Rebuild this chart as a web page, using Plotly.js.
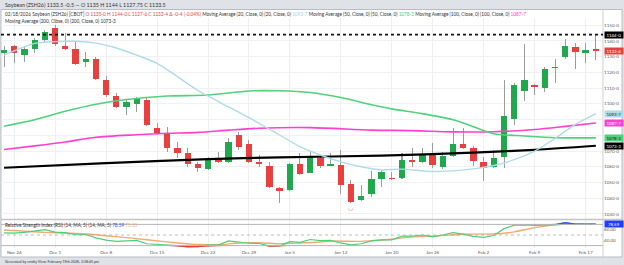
<!DOCTYPE html>
<html><head><meta charset="utf-8">
<script src="https://cdn.plot.ly/plotly-3.0.1.min.js"></script>
<style>html,body{margin:0;padding:0;background:#dfe2e6;overflow:hidden}#chart{width:624px;height:265px}</style>
</head><body><div id="chart"></div>
<script>
// ---------- data ----------
const dates = ['2025-11-21','2025-11-24','2025-11-25','2025-11-26','2025-11-28','2025-12-01','2025-12-02','2025-12-03','2025-12-04','2025-12-05',
'2025-12-08','2025-12-09','2025-12-10','2025-12-11','2025-12-12','2025-12-15','2025-12-16','2025-12-17','2025-12-18','2025-12-19',
'2025-12-22','2025-12-23','2025-12-24','2025-12-26','2025-12-29','2025-12-30','2025-12-31','2026-01-02','2026-01-05','2026-01-06',
'2026-01-07','2026-01-08','2026-01-09','2026-01-12','2026-01-13','2026-01-14','2026-01-15','2026-01-16','2026-01-20','2026-01-21',
'2026-01-22','2026-01-23','2026-01-26','2026-01-27','2026-01-28','2026-01-29','2026-01-30','2026-02-02','2026-02-03','2026-02-04',
'2026-02-05','2026-02-06','2026-02-09','2026-02-10','2026-02-11','2026-02-12','2026-02-13','2026-02-17','2026-02-18'];
const opens  = [1132.5,1137,1131,1135,1140.5,1148,1136.5,1134.75,1126.75,1128.5,1115.25,1105,1098.25,1100,1102.5,1084.5,1081.25,1071.75,1068.5,1061.5,
1058.5,1064.75,1062.75,1080.25,1074.5,1063.25,1060.75,1046.25,1045.25,1061.5,1056.25,1065.75,1060.75,1061,1049,1039,1043,1052.25,1052.5,1052.75,
1064,1063.25,1067.5,1060,1067,1074.5,1072.25,1062.75,1060,1066.5,1090.25,1108.5,1111.75,1110,1122.5,1129.5,1136,1132.25,1135];
const highs  = [1136.5,1137.75,1136.5,1141.75,1147,1150.25,1145,1139.5,1133.25,1130,1117.75,1106.75,1102.5,1104.25,1103.5,1087.75,1085.5,1076,1071.75,1063.25,
1066.5,1069.5,1078,1082.25,1077,1067.5,1063.25,1047.25,1062.25,1068.5,1069.5,1067.5,1068.5,1070.75,1051.5,1048.5,1057.5,1058,1057,1068.5,
1071.75,1071.75,1075,1069.5,1084.5,1084.5,1073.25,1066.5,1070.75,1115.25,1113,1138,1112.5,1123.75,1128.5,1141,1139,1139,1144];
const lows   = [1123.75,1125.75,1126.75,1132.25,1139.5,1136.75,1134.25,1124.75,1123.75,1115.25,1104.25,1097.25,1093,1095,1086,1080.25,1069.5,1065.5,1060,1057,
1058,1062.25,1062.25,1070.75,1062.25,1060,1046.25,1037.25,1044.75,1055,1055.75,1059.5,1060.5,1042.75,1036.75,1038.5,1041,1047.25,1051.5,1052,
1060,1062.5,1059,1058.5,1066.5,1071,1060.5,1051.25,1059,1059,1086.5,1102,1105.75,1107.75,1113,1128.5,1122,1125.75,1127.75];
const closes = [1134.25,1132.25,1134.75,1140.5,1146,1138,1135,1125.5,1128.5,1115.75,1105.75,1098.25,1101,1103,1086.5,1081.25,1071.75,1068.5,1061.5,1059,
1064.25,1063.25,1076,1072.5,1062.75,1061.75,1047,1044.75,1061.5,1055.5,1066.5,1060.5,1061.75,1048.5,1037.75,1041.5,1052.25,1057,1052.25,1064,
1063,1067.5,1061,1067,1074.5,1071.75,1063.75,1059.5,1065.5,1092,1112,1115.25,1110.5,1122.25,1123.75,1137,1133.25,1134,1133.5];

const ma20Idx = [0,1,3,5,7,9,11,13,15,17,19,21,24,27,29,31,33,35,37,39,42,46,48,50,52,54,56,58];
const ma20    = [1131,1133.7,1138.5,1139.6,1139.8,1138.6,1135.5,1131,1125.8,1117.3,1108.5,1101.5,1091.2,1080.2,1072.8,1067.5,1063.1,1060,1058,1058.5,1057,1058.7,1060.8,1064.5,1070,1078,1087,1093.875];
const ma50Idx = [0,3,6,9,12,16,20,24,27,30,33,36,38,41,44,46,48,51,54,58];
const ma50    = [1085.8,1089.9,1095.3,1099.8,1102.8,1105,1105.6,1108.2,1108.3,1107.2,1104,1099.5,1096.8,1093.8,1089.9,1085.5,1081,1079.6,1078.5,1078.375];
const ma100Idx = [0,3,6,9,13,16,19,22,25,30,36,40,44,48,52,55,58];
const ma100    = [1071,1073.3,1075.8,1078.8,1080.4,1081.3,1081.9,1083.3,1084.5,1084.9,1083.3,1083,1082.2,1082.3,1083.7,1085.7,1087.875];
const ma200Idx = [0,10,20,27,37,46,52,58];
const ma200    = [1059.4,1062.3,1064.9,1066,1067.1,1069,1070.8,1073.375];

const rsi = [54,53.5,55,58,60,55.5,54.5,50.5,51,44.5,40.5,38,39,40,33.5,32.5,30.5,30,28,27.5,
31.5,31,39,37,34.5,34,29.5,29,37.5,36,41.5,39.5,40,35,31.5,33.5,39,41,41,48,
48,50,46.5,50,54.5,51.5,47.5,45.5,49,62,68.5,69,68,68.5,69.5,73,70.2,70,70.3];
const rsiMaIdx = [0,4,8,11,14,17,19,21,23,25,27,28,31,32,35,36,38,40,42,45,48,50,52,55,58];
const rsiMa    = [59.5,55,52,47,41,35,32,31.5,35,35.5,33.5,34.3,36.8,38.5,38,39.2,42,46.5,48,51.5,52,56,64,70.5,70.5];
const rsiLevels = [30,50,70];
const rsiTicks = [40,60];
const rsiLabelText = ['78.59','75.15'];

const tickDates  = ['2025-11-24','2025-12-01','2025-12-08','2025-12-15','2025-12-22','2025-12-29','2026-01-05','2026-01-12','2026-01-20','2026-01-26','2026-02-02','2026-02-09','2026-02-17'];
const tickLabels = ['Nov 24','Dec 1','Dec 8','Dec 15','Dec 22','Dec 29','Jan 5','Jan 12','Jan 20','Jan 26','Feb 2','Feb 9','Feb 17'];
const priceTicks = [1030,1040,1050,1060,1070,1080,1090,1100,1110,1120,1130,1140,1150];

// ---------- helpers ----------
const W=624,H=265;
const px=x=>x/W, py=y=>1-y/H;
function f8(v){const s=v<0?'-':'';v=Math.abs(v);let w=Math.floor(v);let e=Math.round((v-w)*8);if(e===8){w++;e=0;}return s+w+'-'+e;}
const at=(idx)=>idx.map(i=>dates[i]);
const UP='#1fa94c', DN='#e8403f', WICK='#9c9c9c';
const n=dates.length, L=n-1;

// ---------- traces ----------
const traces=[];
traces.push({type:'bar',x:dates,base:lows,y:highs.map((h,i)=>h-lows[i]),width:0.1,marker:{color:WICK,line:{width:0}},xaxis:'x',yaxis:'y',hoverinfo:'skip'});
traces.push({type:'bar',x:dates,base:opens.map((o,i)=>Math.min(o,closes[i])),
  y:opens.map((o,i)=>Math.max(Math.abs(closes[i]-o),0.5)),width:0.62,
  marker:{color:opens.map((o,i)=>closes[i]>=o?UP:DN),line:{width:0}},xaxis:'x',yaxis:'y',hoverinfo:'skip'});
const maLine=(idx,v,c,w)=>({type:'scatter',mode:'lines',x:at(idx),y:v,line:{color:c,width:w,shape:'spline',smoothing:0.8},xaxis:'x',yaxis:'y',hoverinfo:'skip'});
traces.push(maLine(ma200Idx,ma200,'#000000',2.2));
traces.push(maLine(ma100Idx,ma100,'#ff3fd0',1.6));
traces.push(maLine(ma50Idx,ma50,'#4fd27c',1.6));
traces.push(maLine(ma20Idx,ma20,'#aedbea',1.4));
// RSI
traces.push({type:'scatter',mode:'lines',x:at(rsiMaIdx),y:rsiMa,line:{color:'#f5a870',width:1.4,shape:'spline',smoothing:0.7},xaxis:'x',yaxis:'y2',hoverinfo:'skip'});
traces.push({type:'scatter',mode:'lines',x:dates,y:rsi,line:{color:'#4ccf7b',width:1.2},xaxis:'x',yaxis:'y2',hoverinfo:'skip'});
traces.push({type:'scatter',mode:'lines',x:dates,y:rsi,line:{color:'#e8303a',width:1.8},xaxis:'x',yaxis:'y3',hoverinfo:'skip'});
traces.push({type:'scatter',mode:'lines',x:dates,y:rsi,line:{color:'#2b4dff',width:1.6},xaxis:'x',yaxis:'y4',hoverinfo:'skip'});

// ---------- layout geometry ----------
const pTop=18,pBot=219, rTop=220,rBot=248;
const yRange=[1026.8,1154.6], rRange=[25.5,78.3];
const rPix=v=>rTop+(rRange[1]-v)/(rRange[1]-rRange[0])*(rBot-rTop);
const lv30=rPix(rsiLevels[0]), lv70=rPix(rsiLevels[2]);

const font="Lato, 'Open Sans', sans-serif";
const grey='#5a5a5a';
const ann=[];
ann.push({xref:'paper',yref:'paper',x:px(3),y:py(5),xanchor:'left',yanchor:'middle',showarrow:false,
  text:'Soybean (ZSH26) '+closes[L]+' '+(closes[L]-closes[L-1])+' \u2014 O '+opens[L]+' H '+highs[L]+' L '+lows[L]+' C '+closes[L],
  font:{family:font,size:5.3,color:'#333'}});
const red='#e8403f';
const chg=closes[L]-closes[L-1], pct=(chg/closes[L-1]*100).toFixed(2);
ann.push({xref:'paper',yref:'paper',x:px(3),y:py(14.5),xanchor:'left',yanchor:'middle',showarrow:false,
  text:'02/18/2026 Soybean (ZSH26) [CBOT] <span style="color:'+red+'">O '+f8(opens[L])+' H '+f8(highs[L])+' L '+f8(lows[L])+' C '+f8(closes[L])+' \u0394 '+f8(chg)+' ('+pct+'%)</span> Moving Average (20, Close, 0) (20, Close, 0) <span style="color:#9fd3e6">'+f8(ma20[ma20.length-1])+'</span> Moving Average (50, Close, 0) (50, Close, 0) <span style="color:#3fcf6f">'+f8(ma50[ma50.length-1])+'</span> Moving Average (100, Close, 0) (100, Close, 0) <span style="color:#ff3fd0">'+f8(ma100[ma100.length-1])+'</span>',
  font:{family:font,size:4.7,color:'#333'}});
ann.push({xref:'paper',yref:'paper',x:px(3),y:py(21),xanchor:'left',yanchor:'middle',showarrow:false,
  text:'Moving Average (200, Close, 0) (200, Close, 0) '+f8(ma200[ma200.length-1]),font:{family:font,size:4.7,color:'#333'}});
ann.push({xref:'paper',yref:'paper',x:px(3),y:py(224.5),xanchor:'left',yanchor:'middle',showarrow:false,
  text:'Relative Strength Index (RSI) (14, MA, 5) (14, MA, 5) <span style="color:#2b4dff">'+rsiLabelText[0]+'</span> <span style="color:#f5a870">'+rsiLabelText[1]+'</span>',
  font:{family:font,size:4.7,color:'#333'}});
ann.push({xref:'paper',yref:'paper',x:px(3),y:py(261.5),xanchor:'left',yanchor:'middle',showarrow:false,
  text:'Generated by cmdty View: February 19th 2026, 2:38:45 pm',font:{family:font,size:3.6,color:'#333'}});
// right boxes
const boxVals=[];
const box=(yr,v,txt,bg,fc)=>{if(yr==='y')boxVals.push(v);ann.push({xref:'paper',yref:yr,x:px(604),y:v,xanchor:'left',yanchor:'middle',showarrow:false,
  text:txt,bgcolor:bg,font:{family:font,size:4.4,color:fc},width:17,height:5.5,borderpad:0.3});};
box('y',highs[L],f8(highs[L]),'#000','#fff');
box('y',closes[L],f8(closes[L]),'#e8403f','#fff');
box('y',ma20[ma20.length-1],f8(ma20[ma20.length-1]),'#aedbea','#222');
box('y',ma100[ma100.length-1],f8(ma100[ma100.length-1]),'#ff3fd0','#fff');
box('y',ma50[ma50.length-1],f8(ma50[ma50.length-1]),'#4fd27c','#111');
box('y',ma200[ma200.length-1],f8(ma200[ma200.length-1]),'#000','#fff');
box('y2',rsi[L],rsiLabelText[0],'#1f3dff','#fff');
// tick labels hidden behind a value box (as in the reference)
const unitPx=(pBot-pTop)/(yRange[1]-yRange[0]);
const priceTickText=priceTicks.map(t=>boxVals.some(b=>Math.abs(b-t)*unitPx<5.2)?'':f8(t));
// extreme markers
const hiI=highs.indexOf(Math.max(...highs)), loI=lows.indexOf(Math.min(...lows));
ann.push({xref:'x',yref:'y',x:dates[hiI],y:highs[hiI],yshift:4,showarrow:false,text:'\u25E0',font:{family:'DejaVu Sans',size:6,color:'#e8403f'}});
ann.push({xref:'x',yref:'y',x:dates[loI],y:lows[loI],yshift:-4,showarrow:false,text:'\u25E1',font:{family:'DejaVu Sans',size:6,color:'#e8403f'}});

const shapes=[
 {type:'rect',xref:'paper',yref:'paper',x0:px(1),x1:px(622),y0:py(257),y1:py(9.5),fillcolor:'#ffffff',line:{color:'#b9bdc3',width:1},layer:'below'},
 {type:'line',xref:'paper',yref:'paper',x0:px(1),x1:px(622),y0:py(219.5),y1:py(219.5),line:{color:'#c4c4c4',width:1.5}},
 {type:'line',xref:'paper',yref:'paper',x0:px(603),x1:px(603),y0:py(257),y1:py(9.5),line:{color:'#cfcfcf',width:1}},
 {type:'line',xref:'paper',yref:'y',x0:px(1),x1:px(603),y0:highs[L],y1:highs[L],line:{color:'#111',width:1.6,dash:'dot'}},
 {type:'line',xref:'paper',yref:'y2',x0:px(1),x1:px(603),y0:rsiLevels[2],y1:rsiLevels[2],line:{color:'#b5b5b5',width:1}},
 {type:'line',xref:'paper',yref:'y2',x0:px(1),x1:px(603),y0:rsiLevels[0],y1:rsiLevels[0],line:{color:'#b5b5b5',width:1}},
 {type:'line',xref:'paper',yref:'y2',x0:px(1),x1:px(603),y0:rsiLevels[1],y1:rsiLevels[1],line:{color:'#aaaaaa',width:0.8,dash:'dot'}}
];

const layout={
 width:W,height:H,margin:{l:0,r:0,t:0,b:0},paper_bgcolor:'#dfe2e6',plot_bgcolor:'rgba(0,0,0,0)',
 showlegend:false,barmode:'overlay',bargap:0,
 font:{family:font,color:grey},
 xaxis:{type:'category',domain:[px(1),px(603)],range:[-0.3,58.7],anchor:'y2',tickvals:tickDates,ticktext:tickLabels,
   tickfont:{size:4.6,color:grey},ticks:'',showgrid:true,gridcolor:'#efefef',gridwidth:1,zeroline:false,showline:false,fixedrange:true},
 yaxis:{domain:[py(pBot),py(pTop)],range:yRange,side:'right',anchor:'x',tickvals:priceTicks,ticktext:priceTickText,
   tickfont:{size:4.6,color:grey},ticks:'',showgrid:true,gridcolor:'#f1f1f1',zeroline:false,showline:false},
 yaxis2:{domain:[py(rBot),py(rTop)],range:rRange,side:'right',anchor:'x',tickvals:rsiTicks,ticktext:rsiTicks.map(v=>v.toFixed(2)),
   tickfont:{size:4.6,color:grey},ticks:'',showgrid:false,zeroline:false,showline:false},
 yaxis3:{domain:[py(rBot),py(lv30)],range:[rRange[0],rsiLevels[0]],anchor:'x',visible:false},
 yaxis4:{domain:[py(lv70),py(rTop)],range:[rsiLevels[2],rRange[1]],anchor:'x',visible:false},
 shapes:shapes,annotations:ann
};
Plotly.newPlot('chart',traces,layout,{staticPlot:true,displayModeBar:false});
</script></body></html>
